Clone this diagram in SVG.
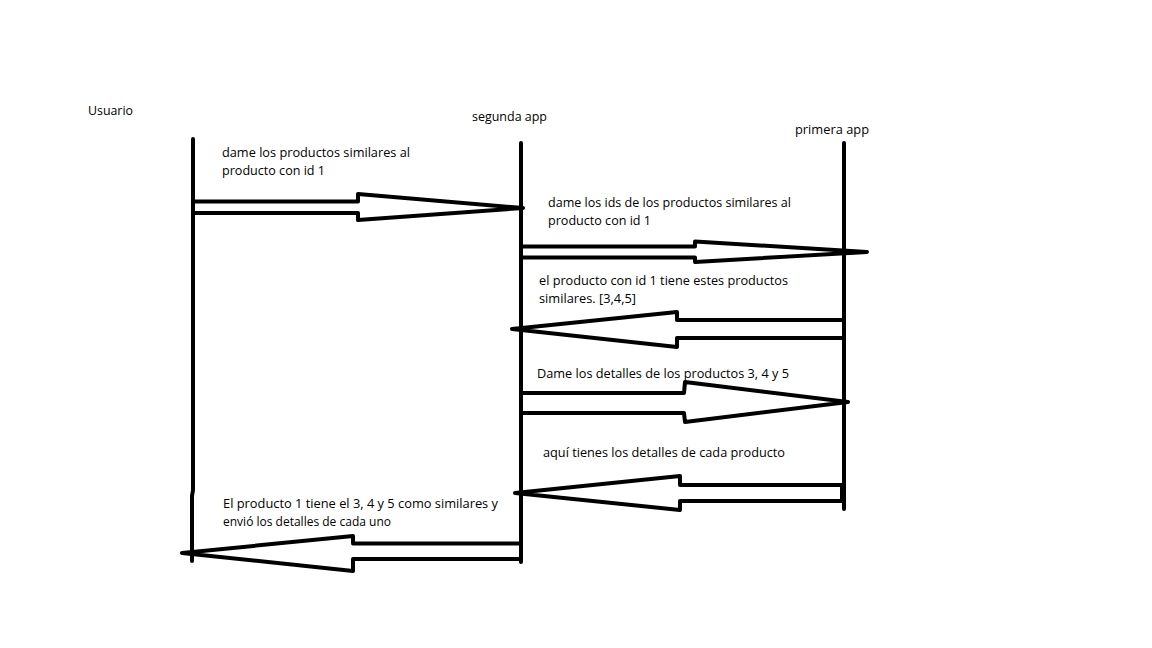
<svg xmlns="http://www.w3.org/2000/svg" width="1152" height="648" viewBox="0 0 1152 648">
<style>
text{font-family:"Open Sans","Noto Sans","Liberation Sans",sans-serif;font-size:12px;fill:#000}
.ln{fill:none;stroke:#000;stroke-width:4;stroke-linejoin:round;stroke-linecap:round}
</style>
<rect width="1152" height="648" fill="#fff"/>
<g id="usuario">
<text x="88" y="115" textLength="45" lengthAdjust="spacingAndGlyphs">Usuario</text>
<path class="ln" d="M193,139 L193,490 L192,496 L192,561"/>
</g>
<g id="segunda-app">
<text x="472" y="121" textLength="75" lengthAdjust="spacingAndGlyphs">segunda app</text>
<path class="ln" d="M521,143 L521,562"/>
</g>
<g id="primera-app">
<text x="795" y="134" textLength="74" lengthAdjust="spacingAndGlyphs">primera app</text>
<path class="ln" d="M844,143 L844,509"/>
</g>
<g id="connectors">
<g id="msg1">
<path class="ln" d="M193,201.5 L358,201.5 L358,194 L523,208 L358,220 L358,213 L193,213"/>
<text x="222" y="157" textLength="188" lengthAdjust="spacingAndGlyphs">dame los productos similares al</text>
<text x="222" y="175" textLength="103" lengthAdjust="spacingAndGlyphs">producto con id 1</text>
</g>
<g id="msg2">
<path class="ln" d="M521,246.5 L695,246.5 L695,241.5 L867,252 L695,262 L695,257.5 L521,257.5"/>
<text x="548" y="207" textLength="243" lengthAdjust="spacingAndGlyphs">dame los ids de los productos similares al</text>
<text x="548" y="225" textLength="103" lengthAdjust="spacingAndGlyphs">producto con id 1</text>
</g>
<g id="msg3">
<path class="ln" d="M844,320 L677,320 L677,312 L512,329 L677,347 L677,338 L844,338"/>
<text x="539" y="285" textLength="249" lengthAdjust="spacingAndGlyphs">el producto con id 1 tiene estes productos</text>
<text x="539" y="303" textLength="97" lengthAdjust="spacingAndGlyphs">similares. [3,4,5]</text>
</g>
<g id="msg4">
<path class="ln" d="M521,393 L684,393 L685,382 L848,402 L685,422 L684,413 L521,413"/>
<text x="537" y="378" textLength="252" lengthAdjust="spacingAndGlyphs">Dame los detalles de los productos 3, 4 y 5</text>
</g>
<g id="msg5">
<path class="ln" d="M842,485 L680,485 L680,476 L515,493 L680,510 L680,501 L842,501 Z"/>
<text x="543" y="457" textLength="242" lengthAdjust="spacingAndGlyphs">aquí tienes los detalles de cada producto</text>
</g>
<g id="msg6">
<path class="ln" d="M521,543.5 L353,543.5 L353,536 L182,553 L353,571 L353,559 L521,559"/>
<text x="223" y="508" textLength="275" lengthAdjust="spacingAndGlyphs">El producto 1 tiene el 3, 4 y 5 como similares y</text>
<text x="223" y="526" textLength="168" lengthAdjust="spacingAndGlyphs">envió los detalles de cada uno</text>
</g>
</g>
</svg>
